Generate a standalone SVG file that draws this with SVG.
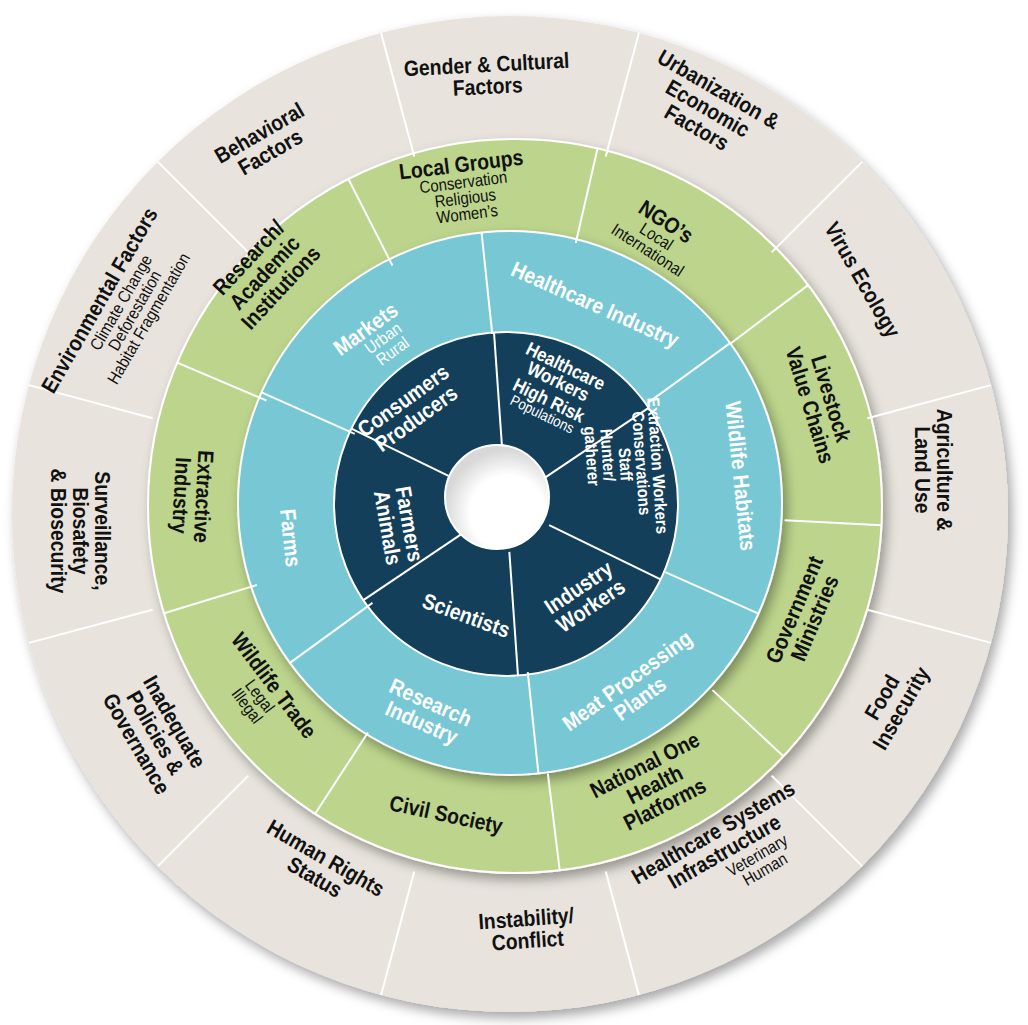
<svg xmlns="http://www.w3.org/2000/svg" width="1028" height="1025" viewBox="0 0 1028 1025">
<defs>
<filter id="sh" x="-10%" y="-10%" width="120%" height="120%"><feDropShadow dx="4" dy="6" stdDeviation="6" flood-color="#000" flood-opacity="0.35"/></filter>
<radialGradient id="hole" cx="0.6" cy="0.65" r="0.6"><stop offset="0.6" stop-color="#fff"/><stop offset="1" stop-color="#d8d8d8"/></radialGradient>
<style>
text{font-family:"Liberation Sans",Arial,sans-serif;text-anchor:middle;transform:scale(0.88,1)}
.o{fill:#111;font-weight:bold;font-size:22px}
.g{fill:#111;font-weight:bold;font-size:22px}
.s{fill:#111;font-weight:normal;font-size:17px}
.w{fill:#fff;font-weight:bold;font-size:22px}
.ws{fill:#fff;font-weight:normal;font-size:17px}
.div line{stroke:#fff;stroke-width:2}
</style>
</defs>
<circle cx="510" cy="514" r="498" fill="#e8e4dd" filter="url(#sh)"/>
<circle cx="515" cy="506" r="367" fill="#bcd48c" stroke="#fff" stroke-width="2" filter="url(#sh)"/>
<circle cx="510" cy="503" r="272" fill="#77c8d4" stroke="#fff" stroke-width="2" filter="url(#sh)"/>
<circle cx="506" cy="504" r="172" fill="#143f5a" stroke="#fff" stroke-width="2"/>
<g id="connectors" class="div">
<g><line x1="880" y1="514" x2="1008" y2="514" transform="rotate(-105 510 514)"/><line x1="880" y1="514" x2="1008" y2="514" transform="rotate(-75 510 514)"/><line x1="880" y1="514" x2="1008" y2="514" transform="rotate(-45 510 514)"/><line x1="880" y1="514" x2="1008" y2="514" transform="rotate(-15 510 514)"/><line x1="880" y1="514" x2="1008" y2="514" transform="rotate(15 510 514)"/><line x1="880" y1="514" x2="1008" y2="514" transform="rotate(45 510 514)"/><line x1="880" y1="514" x2="1008" y2="514" transform="rotate(75 510 514)"/><line x1="880" y1="514" x2="1008" y2="514" transform="rotate(105 510 514)"/><line x1="880" y1="514" x2="1008" y2="514" transform="rotate(135 510 514)"/><line x1="880" y1="514" x2="1008" y2="514" transform="rotate(165 510 514)"/><line x1="880" y1="514" x2="1008" y2="514" transform="rotate(195 510 514)"/><line x1="880" y1="514" x2="1008" y2="514" transform="rotate(225 510 514)"/></g>
<g><line x1="785" y1="506" x2="882" y2="506" transform="rotate(-77 515 506)"/><line x1="785" y1="506" x2="882" y2="506" transform="rotate(-37 515 506)"/><line x1="785" y1="506" x2="882" y2="506" transform="rotate(3 515 506)"/><line x1="785" y1="506" x2="882" y2="506" transform="rotate(43 515 506)"/><line x1="785" y1="506" x2="882" y2="506" transform="rotate(83 515 506)"/><line x1="785" y1="506" x2="882" y2="506" transform="rotate(123 515 506)"/><line x1="785" y1="506" x2="882" y2="506" transform="rotate(163 515 506)"/><line x1="785" y1="506" x2="882" y2="506" transform="rotate(203 515 506)"/><line x1="785" y1="506" x2="882" y2="506" transform="rotate(243 515 506)"/></g>
<g><line x1="680" y1="503" x2="782" y2="503" transform="rotate(-96 510 503)"/><line x1="680" y1="503" x2="782" y2="503" transform="rotate(-36 510 503)"/><line x1="680" y1="503" x2="782" y2="503" transform="rotate(24 510 503)"/><line x1="680" y1="503" x2="782" y2="503" transform="rotate(84 510 503)"/><line x1="680" y1="503" x2="782" y2="503" transform="rotate(144 510 503)"/><line x1="680" y1="503" x2="782" y2="503" transform="rotate(204 510 503)"/></g>
<g><line x1="554" y1="504" x2="678" y2="504" transform="rotate(-94 506 504)"/><line x1="554" y1="504" x2="678" y2="504" transform="rotate(-34 506 504)"/><line x1="554" y1="504" x2="678" y2="504" transform="rotate(26 506 504)"/><line x1="554" y1="504" x2="678" y2="504" transform="rotate(86 506 504)"/><line x1="554" y1="504" x2="678" y2="504" transform="rotate(146 506 504)"/><line x1="554" y1="504" x2="678" y2="504" transform="rotate(206 506 504)"/></g>
</g>
<circle cx="497" cy="497" r="52" fill="url(#hole)" stroke="#fff" stroke-width="2"/>
<g id="outer-gender" transform="translate(487,72) rotate(-3)"><text class="o"><tspan x="0" y="0">Gender &amp; Cultural</tspan><tspan x="0" y="22">Factors</tspan></text></g>
<g id="outer-urban" transform="translate(708,108) rotate(30)"><text class="o"><tspan x="0" y="-14">Urbanization &amp;</tspan><tspan x="0" y="8">Economic</tspan><tspan x="0" y="30">Factors</tspan></text></g>
<g id="outer-virus" transform="translate(862,280) rotate(60)"><text class="o"><tspan x="0" y="7">Virus Ecology</tspan></text></g>
<g id="outer-agri" transform="translate(933,470) rotate(90)"><text class="o"><tspan x="0" y="-4">Agriculture &amp;</tspan><tspan x="0" y="18">Land Use</tspan></text></g>
<g id="outer-food" transform="translate(892,703) rotate(-60)"><text class="o"><tspan x="0" y="-4">Food</tspan><tspan x="0" y="18">Insecurity</tspan></text></g>
<g id="outer-health" transform="translate(728,858) rotate(-30)"><text class="o"><tspan x="0" y="-22">Healthcare Systems</tspan><tspan x="0" y="0">Infrastructure</tspan></text><text class="s"><tspan x="30" y="18">Veterinary</tspan><tspan x="30" y="34">Human</tspan></text></g>
<g id="outer-instab" transform="translate(527,930) rotate(-4)"><text class="o"><tspan x="0" y="-4">Instability/</tspan><tspan x="0" y="18">Conflict</tspan></text></g>
<g id="outer-rights" transform="translate(320,868) rotate(30)"><text class="o"><tspan x="0" y="-4">Human Rights</tspan><tspan x="0" y="18">Status</tspan></text></g>
<g id="outer-policies" transform="translate(155,733) rotate(60)"><text class="o"><tspan x="0" y="-15">Inadequate</tspan><tspan x="0" y="7">Policies &amp;</tspan><tspan x="0" y="29">Governance</tspan></text></g>
<g id="outer-surv" transform="translate(80,531) rotate(90)"><text class="o"><tspan x="0" y="-15">Surveillance,</tspan><tspan x="0" y="7">Biosafety</tspan><tspan x="0" y="29">&amp; Biosecurity</tspan></text></g>
<g id="outer-env" transform="translate(125,315) rotate(-60)"><text class="o"><tspan x="0" y="-22">Environmental Factors</tspan></text><text class="s"><tspan x="10" y="-4">Climate Change</tspan><tspan x="10" y="12">Deforestation</tspan><tspan x="10" y="28">Habitat Fragmentation</tspan></text></g>
<g id="outer-behav" transform="translate(265,143) rotate(-30)"><text class="o"><tspan x="0" y="-4">Behavioral</tspan><tspan x="0" y="18">Factors</tspan></text></g>
<g id="green-local" transform="translate(462,172) rotate(-7)"><text class="g"><tspan x="0" y="0">Local Groups</tspan></text><text class="s"><tspan x="0" y="16">Conservation</tspan><tspan x="0" y="32">Religious</tspan><tspan x="0" y="48">Women’s</tspan></text></g>
<g id="green-ngo" transform="translate(662,228) rotate(33)"><text class="g"><tspan x="0" y="0">NGO’s</tspan></text><text class="s"><tspan x="0" y="16">Local</tspan><tspan x="0" y="32">International</tspan></text></g>
<g id="green-livestock" transform="translate(820,402) rotate(73)"><text class="g"><tspan x="0" y="-4">Livestock</tspan><tspan x="0" y="18">Value Chains</tspan></text></g>
<g id="green-gov" transform="translate(805,614) rotate(-67)"><text class="g"><tspan x="0" y="-4">Government</tspan><tspan x="0" y="18">Ministries</tspan></text></g>
<g id="green-national" transform="translate(655,785) rotate(-27)"><text class="g"><tspan x="0" y="-15">National One</tspan><tspan x="0" y="7">Health</tspan><tspan x="0" y="29">Platforms</tspan></text></g>
<g id="green-civil" transform="translate(446,815) rotate(12)"><text class="g"><tspan x="0" y="7">Civil Society</tspan></text></g>
<g id="green-trade" transform="translate(268,690) rotate(53)"><text class="g"><tspan x="0" y="0">Wildlife Trade</tspan></text><text class="s"><tspan x="0" y="16">Legal</tspan><tspan x="0" y="32">Illegal</tspan></text></g>
<g id="green-extract" transform="translate(192,496) rotate(93)"><text class="g"><tspan x="0" y="-4">Extractive</tspan><tspan x="0" y="18">Industry</tspan></text></g>
<g id="green-research" transform="translate(265,273) rotate(-47)"><text class="g"><tspan x="0" y="-15">Research/</tspan><tspan x="0" y="7">Academic</tspan><tspan x="0" y="29">Institutions</tspan></text></g>
<g id="blue-health" transform="translate(595,305) rotate(24)"><text class="w"><tspan x="0" y="7">Healthcare Industry</tspan></text></g>
<g id="blue-wildlife" transform="translate(740,476) rotate(84)"><text class="w"><tspan x="0" y="7">Wildlife Habitats</tspan></text></g>
<g id="blue-meat" transform="translate(634,690) rotate(-36)"><text class="w"><tspan x="0" y="-4">Meat Processing</tspan><tspan x="0" y="18">Plants</tspan></text></g>
<g id="blue-research" transform="translate(426,713) rotate(24)"><text class="w"><tspan x="0" y="-4">Research</tspan><tspan x="0" y="18">Industry</tspan></text></g>
<g id="blue-farms" transform="translate(290,538) rotate(84)"><text class="w"><tspan x="0" y="7">Farms</tspan></text></g>
<g id="blue-markets" transform="translate(370,335) rotate(-36)"><text class="w"><tspan x="0" y="0">Markets</tspan></text><text class="ws"><tspan x="10" y="16">Urban</tspan><tspan x="10" y="32">Rural</tspan></text></g>
<g id="dark-health" transform="translate(554,390) rotate(26)"><text class="w" style="font-size:19px"><tspan x="0" y="-20">Healthcare</tspan><tspan x="0" y="-3">Workers</tspan><tspan x="0" y="18">High Risk</tspan></text><text class="ws" style="font-size:15px"><tspan x="0" y="32">Populations</tspan></text></g>
<g id="dark-extract" transform="translate(624,468) rotate(86)"><text class="w" style="font-size:17px"><tspan x="0" y="-28">Extraction Workers</tspan><tspan x="-4" y="-12">Conservations</tspan><tspan x="-4" y="4">Staff</tspan><tspan x="-16" y="21">Hunter/</tspan><tspan x="-16" y="37">gatherer</tspan></text></g>
<g id="dark-industry" transform="translate(585,597) rotate(-34)"><text class="w"><tspan x="0" y="-4">Industry</tspan><tspan x="0" y="18">Workers</tspan></text></g>
<g id="dark-sci" transform="translate(466,616) rotate(20)"><text class="w"><tspan x="0" y="7">Scientists</tspan></text></g>
<g id="dark-farmers" transform="translate(398,526) rotate(80)"><text class="w"><tspan x="0" y="-4">Farmers</tspan><tspan x="0" y="18">Animals</tspan></text></g>
<g id="dark-consumers" transform="translate(410,410) rotate(-36)"><text class="w"><tspan x="0" y="-4">Consumers</tspan><tspan x="0" y="18">Producers</tspan></text></g>
</svg>
